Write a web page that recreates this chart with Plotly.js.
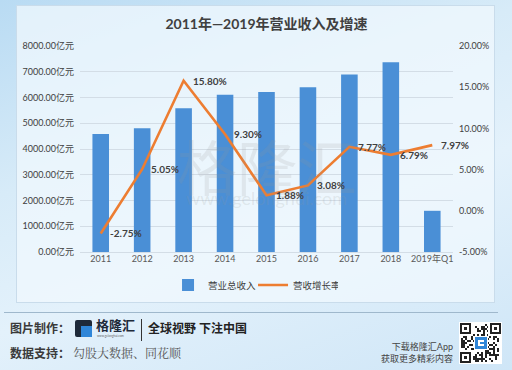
<!DOCTYPE html>
<html><head><meta charset="utf-8">
<script src="https://cdn.plot.ly/plotly-3.0.1.min.js"></script>
<style>
html,body{margin:0;padding:0;}
body{width:512px;height:370px;overflow:hidden;position:relative;
 background:linear-gradient(160deg,#b9dbf3 0%,#d7ebf8 35%,#e3f1fb 60%,#cfe6f7 100%);
 font-family:Lato,"Noto Sans CJK SC",sans-serif;}
#panel{position:absolute;left:16px;top:5px;width:479px;height:298px;
 background:rgba(240,248,253,0.75);border:1px solid #c9dceb;box-sizing:border-box;}
#sep{position:absolute;left:4px;top:312px;width:494px;height:1px;background:#9fb8cc;}
#chart{position:absolute;left:0;top:0;width:512px;height:370px;}
.ft{position:absolute;white-space:nowrap;color:#333;}
#qr{position:absolute;left:459px;top:322px;width:43px;height:42px;background:#fff;}
</style></head>
<body>
<div id="panel"></div>
<div id="sep"></div>
<div id="chart"></div>
<div class="ft" style="left:10px;top:319px;font-size:12px;font-weight:bold;color:#3a3a3a;">图片制作：</div>
<div style="position:absolute;left:75px;top:320px;width:17px;height:17px;background:#1e2a3a;border-radius:2px;"></div>
<div style="position:absolute;left:81px;top:326px;width:11px;height:11px;background:#2f86d8;"></div>
<div class="ft" style="left:96px;top:317px;font-size:13px;font-weight:bold;color:#1e2a3a;line-height:16px;">格隆汇</div>
<div class="ft" style="left:97px;top:335px;font-size:3px;line-height:3px;color:#666;">www.gelonghui.com</div>
<div style="position:absolute;left:141px;top:319px;width:1px;height:22px;background:#333;"></div>
<div class="ft" style="left:148px;top:319px;font-size:12px;font-weight:bold;color:#222;">全球视野 下注中国</div>
<div class="ft" style="left:10px;top:344px;font-size:12px;font-weight:bold;color:#3a3a3a;">数据支持：</div>
<div class="ft" style="left:73px;top:344px;font-size:12px;color:#555;font-family:'Noto Serif CJK SC','Noto Sans CJK SC',serif;">勾股大数据、同花顺</div>
<div class="ft" style="right:59px;top:340px;font-size:9px;color:#444;text-align:right;">下载格隆汇App</div>
<div class="ft" style="right:59px;top:352px;font-size:9px;color:#444;text-align:right;">获取更多精彩内容</div>
<canvas id="qr" width="43" height="42"></canvas>
<script>
// ---- data ----
const categories = ["2011","2012","2013","2014","2015","2016","2017","2018","2019年Q1"];
const revenue = [4580, 4810, 5580, 6110, 6210, 6400, 6890, 7370, 1600];
const growth = [-2.75, 5.05, 15.80, 9.30, 1.88, 3.08, 7.77, 6.79, 7.97];
const leftTicks = [0,1000,2000,3000,4000,5000,6000,7000,8000];
const rightTicks = [-5,0,5,10,15,20];
const seriesNames = ["营业总收入","营收增长率"];
const titleText = "2011年—2019年营业收入及增速";

const FONT = 'Lato, "Noto Sans CJK SC", sans-serif';
const traces = [
 {type:'bar', x:categories, y:revenue, name:seriesNames[0], marker:{color:'#4a8fd6'}, yaxis:'y', hoverinfo:'skip'},
 {type:'scatter', mode:'lines', x:categories, y:growth, name:seriesNames[1], yaxis:'y2',
  line:{color:'#ed7d31', width:2.6}, hoverinfo:'skip'}
];
const watermark = [
  {text:'格隆汇', xref:'paper', yref:'paper', x:0.5, y:0.41, showarrow:false, font:{family:FONT, size:60, color:'rgba(150,150,150,0.16)'}},
  {text:'www.gelonghui.com', xref:'paper', yref:'paper', x:0.5, y:0.2, showarrow:false, font:{family:FONT, size:18, color:'rgba(150,150,150,0.18)'}}
];
const labels = growth.map((v,i)=>({
  text:v.toFixed(2)+'%', x:i, y:v, xref:'x', yref:'y2', xanchor:'left', yanchor:'middle',
  xshift:7, showarrow:false, font:{family:FONT, size:10, color:'#404040', weight:'bold'}
}));
const layout = {
 width:512, height:370, margin:{l:80, r:59, t:46, b:118},
 paper_bgcolor:'rgba(0,0,0,0)', plot_bgcolor:'rgba(0,0,0,0)',
 font:{family:FONT, color:'#404040', size:9},
 title:{text:titleText, x:0.5, xref:'paper', y:0.935, yanchor:'middle', font:{family:FONT, size:14, color:'#404040', weight:'bold'}},
 bargap:0.6, showlegend:true,
 legend:{orientation:'h', x:0.236, xanchor:'left', y:-0.16, yanchor:'middle', font:{size:9.5, color:'#404040'}, bgcolor:'rgba(0,0,0,0)', traceorder:'normal', itemwidth:30, entrywidth:40, entrywidthmode:'pixels'},
 xaxis:{type:'category', range:[-0.5,8.5], showgrid:false, showline:false, ticks:'', tickfont:{size:9, color:'#595959'}, fixedrange:true},
 yaxis:{range:[0,8000], tickvals:leftTicks, ticktext:leftTicks.map(v=>v.toFixed(2)+'亿元'), showgrid:true, gridcolor:'#d3dde6', gridwidth:1, zeroline:true, zerolinecolor:'#d3dde6', showline:false, ticks:'', tickfont:{size:9, color:'#404040'}, ticklabelstandoff:5},
 yaxis2:{overlaying:'y', side:'right', range:[-5,20], tickvals:rightTicks, ticktext:rightTicks.map(v=>v.toFixed(2)+'%'), showgrid:false, zeroline:false, showline:false, ticks:'', tickfont:{size:9, color:'#404040'}, ticklabelstandoff:5},
 annotations: watermark.concat(labels)
};
Plotly.newPlot('chart', traces, layout, {staticPlot:true, displayModeBar:false});

// decorative QR-like pattern
const c = document.getElementById('qr').getContext('2d');
c.fillStyle='#fff'; c.fillRect(0,0,43,42);
c.fillStyle='#222';
let s = 7;
for(let i=0;i<19;i++){for(let j=0;j<19;j++){ s=(s*1103515245+12345)&0x7fffffff; if((s>>16)&1) c.fillRect(2+i*2,2+j*2,2,2);}}
function finder(x,y){c.fillStyle='#222';c.fillRect(x,y,11,11);c.fillStyle='#fff';c.fillRect(x+2,y+2,7,7);c.fillStyle='#222';c.fillRect(x+4,y+4,3,3);}
c.fillStyle='#fff';c.fillRect(0,0,14,14);c.fillRect(29,0,14,14);c.fillRect(0,28,14,14);
finder(1,1);finder(31,1);finder(1,30);
c.fillStyle='#fff';c.fillRect(15,14,14,14);
c.fillStyle='#2f86d8';c.fillRect(16,15,12,12);
c.fillStyle='#fff';c.fillRect(19,18,6,6);c.fillStyle='#2f86d8';c.fillRect(21,20,4,2);
</script>
</body></html>
